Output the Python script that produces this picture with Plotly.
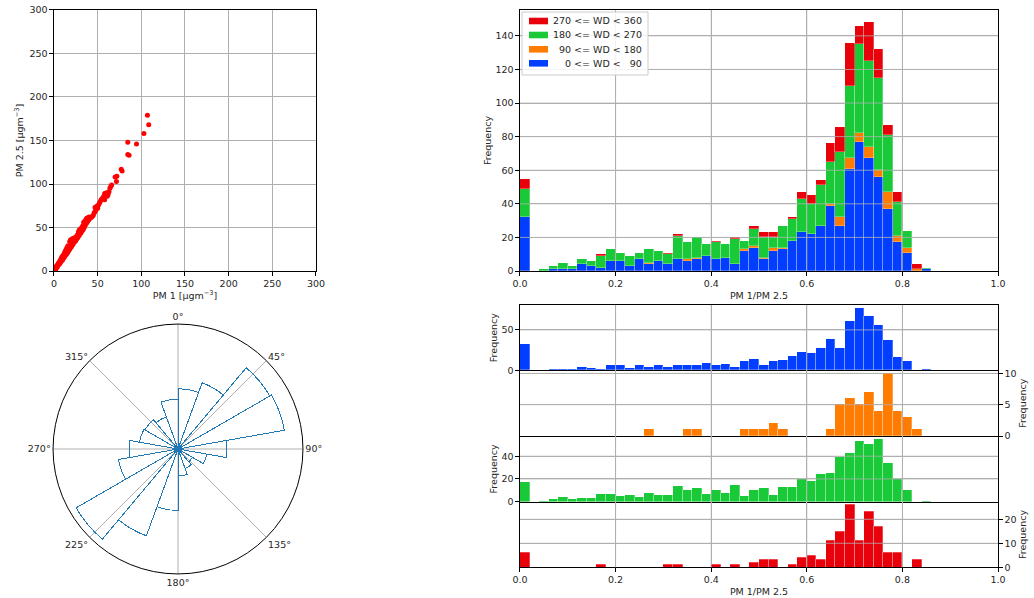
import plotly.graph_objects as go

# ---------------- data ----------------
# scatter PM1 vs PM2.5
pm1 = [0.5, 1, 1, 1.5, 2, 2, 2.5, 3, 3, 3.5, 4, 4, 4.5, 5, 5, 5.5, 6, 6, 6.5, 7, 7, 7.5, 8, 8, 8.5,
       9, 9, 9.5, 10, 10, 10.5, 11, 11, 11.5, 12, 12, 12.5, 13, 13, 13.5, 14, 14, 14.5, 15, 15, 15.5,
       16, 16, 16.5, 17, 17, 17.5, 18, 18, 18.5, 19, 19, 20, 20, 20.5, 21, 21, 22, 22, 23, 23, 24, 24,
       25, 25, 26, 26, 27, 27, 28, 28, 29, 29, 30, 30, 31, 31, 32, 32, 33, 33, 34, 34, 35, 35, 36, 36,
       37, 37, 38, 38, 39, 40, 40, 41, 42, 43, 44, 45, 46, 47, 47, 48, 48, 49, 50, 50, 51, 52, 53, 54,
       55, 56, 57, 58, 58, 59, 60, 61, 62, 63, 64, 65, 66, 70, 71.5, 72, 77, 78, 84.5, 84.5, 86, 94.5,
       103, 107, 108.5]
pm25 = [1, 1, 2, 2.5, 2, 4, 3.5, 4, 6, 5, 5, 7, 7, 7, 9, 8, 8, 10, 10, 9, 12, 11, 11, 14, 12,
        12, 16, 14, 13, 17, 15, 15, 19, 17, 16, 21, 18, 18, 23, 20, 19, 25, 21, 20, 27, 22,
        22, 29, 24, 24, 28, 26, 25, 34, 27, 27, 36, 28, 33, 30, 30, 37, 31, 37, 33, 38, 34, 37,
        35, 39, 37, 40, 38, 42, 40, 45, 41, 47, 43, 48, 44, 49, 46, 50, 47, 52, 49, 56, 51, 57, 53, 58,
        55, 60, 56, 61, 58, 59, 62, 61, 61, 62, 63, 64, 67, 68, 73, 70, 74, 72, 72, 75, 76, 78, 80, 82,
        83, 84, 86, 82, 89, 86, 90, 86, 88, 91, 95, 97, 99, 108, 103, 109, 117, 115, 148, 134, 133, 146,
        158, 179, 168]

# histogram bins of PM1/PM2.5 (left edges, width 0.02)
bin_left = [0.00, 0.02, 0.04, 0.06, 0.08, 0.10, 0.12, 0.14, 0.16, 0.18, 0.20, 0.22, 0.24, 0.26,
            0.28, 0.30, 0.32, 0.34, 0.36, 0.38, 0.40, 0.42, 0.44, 0.46, 0.48, 0.50, 0.52, 0.54,
            0.56, 0.58, 0.60, 0.62, 0.64, 0.66, 0.68, 0.70, 0.72, 0.74, 0.76, 0.78, 0.80, 0.82, 0.84]
bin_width = 0.02

count_ne = [32, 0, 0, 1, 1, 1, 4, 3, 2, 6, 6, 3, 7, 4, 6, 4, 7, 6, 7, 9, 7, 8, 4, 12, 14, 7, 12,
            13, 18, 23, 22, 27, 39, 27, 61, 77, 67, 56, 37, 17, 11, 0, 1]
count_se = [0, 0, 0, 0, 0, 0, 0, 0, 0, 0, 0, 0, 0, 1, 0, 0, 0, 1, 1, 0, 0, 0, 0, 1, 1, 1, 2,
            1, 0, 0, 0, 0, 1, 5, 6, 5, 7, 4, 10, 4, 3, 1, 0]
count_sw = [17, 0, 1, 2, 4, 2, 3, 3, 7, 7, 5, 6, 4, 8, 6, 6, 14, 10, 12, 7, 10, 8, 15, 5, 10, 12, 6,
            13, 13, 20, 18, 24, 25, 39, 43, 53, 51, 55, 34, 20, 10, 0, 1]
count_nw = [6, 0, 0, 0, 0, 0, 0, 0, 1, 0, 0, 0, 0, 0, 0, 1, 1, 0, 0, 0, 1, 0, 1, 0, 2, 3, 3,
            0, 1, 4, 5, 3, 11, 15, 26, 11, 23, 17, 6, 6, 0, 3, 0]

series_names = ["0 <= WD <\u00a0\u00a0\u00a090",
                "90 <= WD < 180",
                "180 <= WD < 270",
                "270 <= WD < 360"]
series_colors = ["#023eff", "#ff7c00", "#1ac938", "#e8000b"]

# wind rose (20 degree sectors, centre angles) and radial lengths
rose_theta = [10, 30, 50, 70, 90, 110, 130, 150, 170, 190, 210, 230, 250, 270, 290, 310, 330, 350]
rose_r = [181, 212, 319, 325, 147, 88, 50, 62, 81, 185, 278, 354, 182, 147, 118, 115, 103, 150]
rose_rmax = 376

compass_vals = [0, 45, 90, 135, 180, 225, 270, 315]
compass_text = ["0°", "45°", "90°", "135°", "180°", "225°", "270°", "315°"]

ratio_ticks = [0.2, 0.4, 0.6, 0.8]

# ---------------- figure ----------------
W, H = 1034, 598
FONT = dict(family="DejaVu Sans", size=9.5, color="#262626")
GRID = "#b0b0b0"

fig = go.Figure()

fig.add_trace(go.Scatter(x=pm1, y=pm25, mode="markers", xaxis="x", yaxis="y",
                         marker=dict(color="#ff0000", size=5, line=dict(width=0)),
                         showlegend=False))

counts = [count_ne, count_se, count_sw, count_nw]
for cnt, name, col in zip(counts, series_names, series_colors):
    fig.add_trace(go.Bar(x=bin_left, y=cnt, width=bin_width, offset=0, name=name,
                         xaxis="x2", yaxis="y2", showlegend=False,
                         marker=dict(color=col, line=dict(color="rgba(255,255,255,0.45)", width=0.6))))

panel_axes = [("x3", "y3"), ("x4", "y4"), ("x5", "y5"), ("x6", "y6")]
for cnt, col, (xa, ya) in zip(counts, series_colors, panel_axes):
    fig.add_trace(go.Bar(x=bin_left, y=cnt, width=bin_width, offset=0, xaxis=xa, yaxis=ya,
                         showlegend=False,
                         marker=dict(color=col, line=dict(color="rgba(255,255,255,0.45)", width=0.6))))

fig.add_trace(go.Barpolar(r=rose_r, theta=rose_theta, width=20, showlegend=False,
                          marker=dict(color="rgba(0,0,0,0)", line=dict(color="#1f77b4", width=1))))


def ax(**kw):
    base = dict(showgrid=True, gridcolor=GRID, gridwidth=0.8, showline=True, linecolor="black",
                linewidth=1, mirror=True, ticks="outside", ticklen=3.5, tickcolor="black",
                zeroline=False, automargin=False, tickfont=FONT, title_font=FONT)
    base.update(kw)
    return base


shapes = []
# grid lines drawn over the bars (matplotlib draws grid above patches)
hist_grids = [("x2", "y2", [20, 40, 60, 80, 100, 120, 140]),
              ("x3", "y3", [50]),
              ("x4", "y4", [5, 10]),
              ("x5", "y5", [20, 40]),
              ("x6", "y6", [10, 20])]
for xa, ya, yt in hist_grids:
    for xv in ratio_ticks:
        shapes.append(dict(type="line", xref=xa, yref=ya + " domain", x0=xv, x1=xv, y0=0, y1=1,
                           line=dict(color=GRID, width=0.8), layer="above"))
    for yv in yt:
        shapes.append(dict(type="line", xref=xa + " domain", yref=ya, x0=0, x1=1, y0=yv, y1=yv,
                           line=dict(color=GRID, width=0.8), layer="above"))

# manual legend (matplotlib-like compact rows)
shapes.append(dict(type="rect", xref="paper", yref="paper",
                   x0=522 / W, x1=648 / W, y0=1 - 75 / H, y1=1 - 12 / H,
                   line=dict(color="#cccccc", width=1), fillcolor="rgba(255,255,255,0.85)",
                   layer="above"))
annotations = []
row_y = [21, 35, 49.3, 63.3]
for i, k in enumerate([3, 2, 1, 0]):
    yc = row_y[i]
    shapes.append(dict(type="rect", xref="paper", yref="paper",
                       x0=529 / W, x1=548 / W, y0=1 - (yc + 3.3) / H, y1=1 - (yc - 3.3) / H,
                       line=dict(width=0), fillcolor=series_colors[k], layer="above"))
    annotations.append(dict(xref="paper", yref="paper", x=644 / W, y=1 - yc / H,
                            xanchor="right", yanchor="middle", showarrow=False,
                            text=series_names[k], font=FONT))

y_top = [0.5468, 0.9833]
fig.update_layout(
    width=W, height=H, margin=dict(l=0, r=0, t=0, b=0),
    paper_bgcolor="white", plot_bgcolor="white", font=FONT,
    barmode="stack", bargap=0, showlegend=False,
    shapes=shapes, annotations=annotations,
    xaxis=ax(domain=[0.0522, 0.3056], range=[0, 300], dtick=50, anchor="y",
             title=dict(text="PM 1 [μgm<sup>−3</sup>]", standoff=4)),
    yaxis=ax(domain=y_top, range=[0, 300], dtick=50, anchor="x",
             title=dict(text="PM 2.5 [μgm<sup>−3</sup>]", standoff=4)),
    xaxis2=ax(domain=[0.5029, 0.9652], range=[0, 1], dtick=0.2, anchor="y2",
              tickformat=".1f", title=dict(text="PM 1/PM 2.5", standoff=4)),
    yaxis2=ax(domain=y_top, range=[0, 155.4], dtick=20, anchor="x2",
              title=dict(text="Frequency", standoff=2)),
    xaxis3=ax(domain=[0.5029, 0.9652], range=[0, 1], dtick=0.2, anchor="y3", showticklabels=False),
    yaxis3=ax(domain=[0.3808, 0.4900], range=[0, 80.85], dtick=50, anchor="x3",
              title=dict(text="Frequency", standoff=2)),
    xaxis4=ax(domain=[0.5029, 0.9652], range=[0, 1], dtick=0.2, anchor="y4", showticklabels=False,
              mirror=False),
    yaxis4=ax(domain=[0.2709, 0.3808], range=[0, 10.5], dtick=5, anchor="x4", side="right",
              title=dict(text="Frequency", standoff=2)),
    xaxis5=ax(domain=[0.5029, 0.9652], range=[0, 1], dtick=0.2, anchor="y5", showticklabels=False,
              mirror=False),
    yaxis5=ax(domain=[0.1610, 0.2709], range=[0, 57.75], dtick=20, anchor="x5",
              title=dict(text="Frequency", standoff=2)),
    xaxis6=ax(domain=[0.5029, 0.9652], range=[0, 1], dtick=0.2, anchor="y6", tickformat=".1f",
              mirror=False, title=dict(text="PM 1/PM 2.5", standoff=4)),
    yaxis6=ax(domain=[0.0513, 0.1610], range=[0, 27.3], dtick=10, anchor="x6", side="right",
              title=dict(text="Frequency", standoff=2)),
    polar=dict(
        domain=dict(x=[0.0513, 0.2930], y=[0.0401, 0.4582]),
        bgcolor="white",
        radialaxis=dict(visible=False, range=[0, rose_rmax]),
        angularaxis=dict(rotation=90, direction="clockwise", tickmode="array",
                         tickvals=compass_vals, ticktext=compass_text, showgrid=True,
                         gridcolor=GRID, gridwidth=0.8, showline=True, linecolor="black",
                         linewidth=1, ticks="", tickfont=FONT),
    ),
)

fig.write_html("out.html", post_script="document.body.style.margin='0';",
               config={"displayModeBar": False})
